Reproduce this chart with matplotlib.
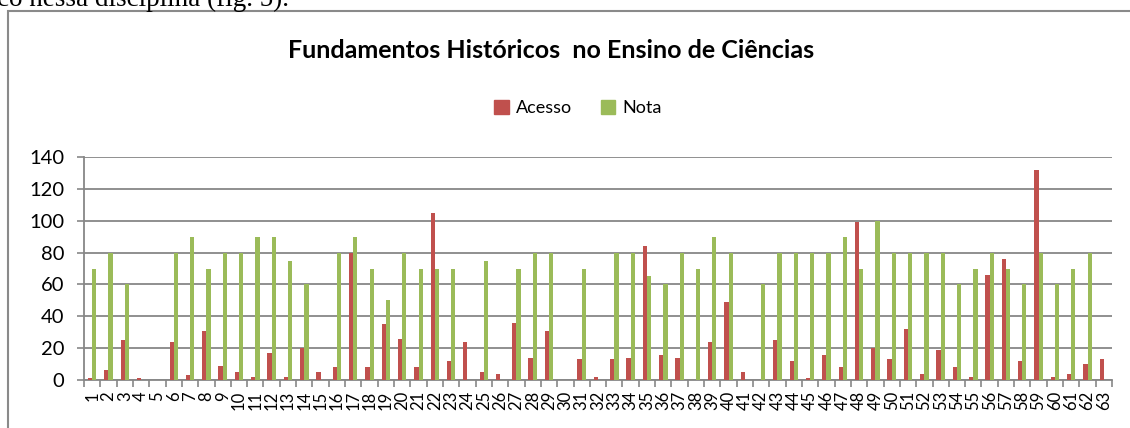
import matplotlib.pyplot as plt
import numpy as np
from matplotlib.patches import Patch, Rectangle

categories = [str(i) for i in range(1, 64)]
acesso = [1, 6, 25, 1, 0, 24, 3, 31, 9, 5, 2, 17, 2, 20, 5, 8, 80, 8, 35, 26,
          8, 105, 12, 24, 5, 4, 36, 14, 31, 0, 13, 2, 13, 14, 84, 16, 14, 0, 24, 49,
          5, 0, 25, 12, 1, 16, 8, 99, 20, 13, 32, 4, 19, 8, 2, 66, 76, 12, 132, 2,
          4, 10, 13]
nota = [70, 80, 60, 0, 0, 80, 90, 70, 80, 80, 90, 90, 75, 60, 0, 80, 90, 70, 50, 80,
        70, 70, 70, 0, 75, 0, 70, 80, 80, 0, 70, 0, 80, 80, 65, 60, 80, 70, 90, 80,
        0, 60, 80, 80, 80, 80, 90, 70, 100, 80, 80, 80, 80, 60, 70, 80, 70, 60, 80, 60,
        70, 80, 0]
yticks = [0, 20, 40, 60, 80, 100, 120, 140]

RED = "#C0504D"
GREEN = "#9BBB59"
GRID = "#878787"
W, H = 1130, 428

plt.rcParams["font.family"] = ["Lato", "DejaVu Sans"]

fig = plt.figure(figsize=(W / 100, H / 100), dpi=100)

# chart frame (runs past the right and bottom edges of the crop)
fig.patches.append(Rectangle((8 / W, -0.1), 1.2, 1 - 11 / H + 0.1, transform=fig.transFigure,
                             fill=False, edgecolor="#8a8a8a", linewidth=1.5))
# document text above the chart, cut off at the top like in the page crop
fig.text(-3 / W, 1 - 6 / H, "co nessa disciplina (fig. 5).", family="Liberation Serif",
         fontsize=19.5, ha="left", va="baseline")

ax = fig.add_axes([84 / W, (H - 380) / H, (1112 - 84) / W, (380 - 157) / H])
x = np.arange(1, len(categories) + 1)
bw = 0.26
ax.bar(x - bw / 2, acesso, width=bw, color=RED, zorder=3)
ax.bar(x + bw / 2, nota, width=bw, color=GREEN, zorder=3)

ax.set_xlim(0.5, len(categories) + 0.5)
ax.set_ylim(0, 140)
ax.set_yticks(yticks)
ax.set_yticklabels([str(v) for v in yticks])
ax.yaxis.grid(True, color=GRID, linewidth=1.3, zorder=0)
ax.set_axisbelow(True)

ax.set_xticks(x)
ax.set_xticklabels(categories, rotation=90, ha="center", va="top")
ax.set_xticks(np.arange(0.5, len(categories) + 1), minor=True)
ax.tick_params(axis="x", which="major", length=0, pad=8, labelsize=12)
ax.tick_params(axis="x", which="minor", length=5, width=1.2, color=GRID)
ax.tick_params(axis="y", length=5, width=1.2, color=GRID, pad=9, labelsize=14.5)

for side in ("top", "right"):
    ax.spines[side].set_visible(False)
for side in ("left", "bottom"):
    ax.spines[side].set_color(GRID)
    ax.spines[side].set_linewidth(1.3)

fig.text(551 / W, 1 - 51 / H, "Fundamentos Históricos  no Ensino de Ciências",
         fontsize=18, fontweight="bold", ha="center", va="center")

handles = [Patch(color=RED, label="Acesso"), Patch(color=GREEN, label="Nota")]
fig.legend(handles=handles, loc="center", bbox_to_anchor=(578 / W, 1 - 108 / H), ncol=2,
           frameon=False, fontsize=13, handlelength=0.8, handleheight=0.8,
           handletextpad=0.4, columnspacing=1.6)

fig.savefig("out.png", dpi=100)
